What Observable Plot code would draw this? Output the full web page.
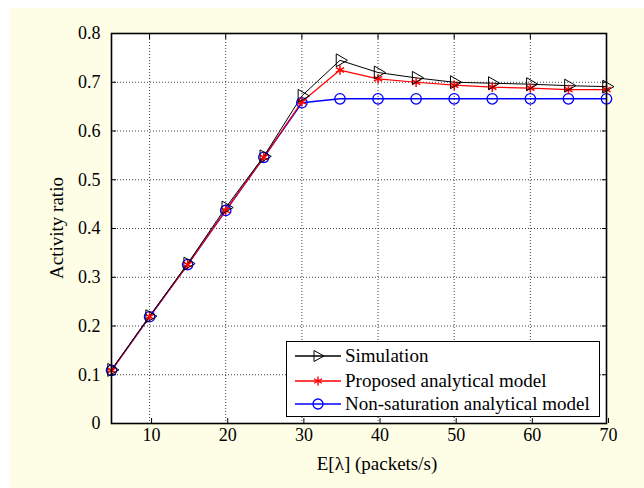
<!DOCTYPE html>
<html>
<head>
<meta charset="utf-8">
<script src="https://cdn.jsdelivr.net/npm/d3@7"></script>
<script src="https://cdn.jsdelivr.net/npm/@observablehq/plot@0.6"></script>
<style>
  html, body { margin: 0; padding: 0; background: #ffffff; }
  #wrap { position: relative; width: 644px; height: 488px; overflow: hidden; font-family: 'Liberation Serif', 'Times New Roman', serif; color: #000; }
  #bg { position: absolute; left: 10px; top: 8px; right: 0; bottom: 0; background: #fefee6; }
  #chart { position: absolute; left: 0; top: 0; }
  .lab { position: absolute; font-size: 19px; line-height: 22px; white-space: nowrap; }
  #legend { position: absolute; left: 286px; top: 341px; width: 314px; height: 76px; background: #fff; border: 1.5px solid #000; box-sizing: border-box; }
  .row { position: absolute; left: 0; height: 24px; display: flex; align-items: center; font-size: 19px; white-space: nowrap; }
  .row svg { margin-left: 8px; margin-right: 4px; }
</style>
</head>
<body>
<div id="wrap">
  <div id="bg"></div>
  <div id="chart"></div>
  <div class="lab" id="xlab" style="left:377px; top:453px; transform: translateX(-50%);">E[λ] (packets/s)</div>
  <div class="lab" id="ylab" style="left:57px; top:228px; transform: translate(-50%,-50%) rotate(-90deg);">Activity ratio</div>
  <div id="legend"></div>
</div>
<script>
const lambda = [5, 10, 15, 20, 25, 30, 35, 40, 45, 50, 55, 60, 65, 70];
const simulation = [0.110, 0.220, 0.328, 0.443, 0.548, 0.672, 0.745, 0.720, 0.709, 0.700, 0.698, 0.696, 0.693, 0.691];
const proposed = [0.109, 0.219, 0.326, 0.437, 0.546, 0.660, 0.725, 0.707, 0.700, 0.694, 0.690, 0.688, 0.685, 0.685];
const nonSaturation = [0.109, 0.219, 0.326, 0.437, 0.546, 0.658, 0.666, 0.666, 0.666, 0.666, 0.666, 0.666, 0.666, 0.666];
const seriesNames = ["Simulation", "Proposed analytical model", "Non-saturation analytical model"];
const xTicks = [10, 20, 30, 40, 50, 60, 70];
const yTicks = [0, 0.1, 0.2, 0.3, 0.4, 0.5, 0.6, 0.7, 0.8];
const yTickLabels = ["0", "0.1", "0.2", "0.3", "0.4", "0.5", "0.6", "0.7", "0.8"];

const toRows = (vals) => lambda.map((x, i) => ({x, y: vals[i]}));
const sim = toRows(simulation), prop = toRows(proposed), non = toRows(nonSaturation);

const axisStyle = {tickSize: -5, strokeWidth: 1};
const chart = Plot.plot({
  width: 644, height: 488,
  marginLeft: 111, marginRight: 38, marginTop: 33, marginBottom: 65,
  style: {background: "transparent", fontFamily: "'Liberation Serif', 'Times New Roman', serif", fontSize: "18px", color: "#000"},
  x: {domain: [5, 70]},
  y: {domain: [0, 0.8]},
  marks: [
    Plot.frame({fill: "#ffffff", stroke: null}),
    Plot.gridX(xTicks.filter(d => d < 70), {stroke: "#000", strokeOpacity: 0.75, strokeDasharray: "1,2", strokeWidth: 1}),
    Plot.gridY(yTicks.filter(d => d > 0 && d < 0.8), {stroke: "#000", strokeOpacity: 0.75, strokeDasharray: "1,2", strokeWidth: 1}),
    Plot.line(non, {x: "x", y: "y", stroke: "#0000ff", strokeWidth: 1.5}),
    Plot.line(prop, {x: "x", y: "y", stroke: "#ff0000", strokeWidth: 1.2}),
    Plot.line(sim, {x: "x", y: "y", stroke: "#000000", strokeWidth: 1}),
    Plot.dot(non, {x: "x", y: "y", symbol: "circle", r: 5.2, stroke: "#0000ff", strokeWidth: 1.3, fill: "none"}),
    Plot.dot(prop, {x: "x", y: "y", symbol: "asterisk", r: 4.5, stroke: "#ff0000", strokeWidth: 1.5}),
    Plot.dot(sim, {x: "x", y: "y", symbol: "triangle", rotate: 90, r: 4.8, stroke: "#000", strokeWidth: 1, fill: "none"}),
    Plot.axisX(xTicks, {anchor: "bottom", ...axisStyle, tickPadding: 10, dx: 2, label: null}),
    Plot.axisX(xTicks, {anchor: "top", ...axisStyle, tickFormat: () => "", label: null}),
    Plot.axisY(yTicks, {anchor: "left", ...axisStyle, tickPadding: 16, tickFormat: (d, i) => yTickLabels[yTicks.indexOf(d)], label: null}),
    Plot.axisY(yTicks, {anchor: "right", ...axisStyle, tickFormat: () => "", label: null}),
    Plot.frame({stroke: "#000", strokeWidth: 1.6})
  ]
});
document.getElementById("chart").appendChild(chart);

// legend
const legendSpec = [
  {name: seriesNames[0], color: "#000", marker: "tri"},
  {name: seriesNames[1], color: "#ff0000", marker: "ast"},
  {name: seriesNames[2], color: "#0000ff", marker: "circ"}
];
const legend = document.getElementById("legend");
const rowTops = [2, 27, 50];
legendSpec.forEach((s, i) => {
  const row = document.createElement("div");
  row.className = "row";
  row.style.top = rowTops[i] + "px";
  let m = "";
  if (s.marker === "tri") m = `<path d="M19,4.5 L29,10 L19,15.5 Z" fill="none" stroke="${s.color}" stroke-width="1"/>`;
  if (s.marker === "ast") m = `<g stroke="${s.color}" stroke-width="1.4"><line x1="23" y1="5.5" x2="23" y2="14.5"/><line x1="19.1" y1="7.75" x2="26.9" y2="12.25"/><line x1="19.1" y1="12.25" x2="26.9" y2="7.75"/></g>`;
  if (s.marker === "circ") m = `<circle cx="23" cy="10" r="5" fill="none" stroke="${s.color}" stroke-width="1.3"/>`;
  row.innerHTML = `<svg width="46" height="20"><line x1="0" y1="10" x2="46" y2="10" stroke="${s.color}" stroke-width="1.3"/>${m}</svg><span>${s.name}</span>`;
  legend.appendChild(row);
});
</script>
</body>
</html>
